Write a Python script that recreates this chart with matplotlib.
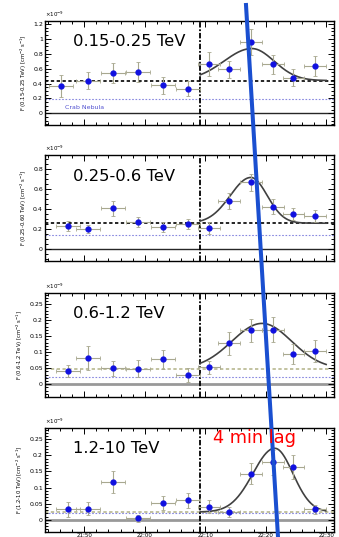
import numpy as np
import matplotlib
matplotlib.use("Agg")
import matplotlib.pyplot as plt
from matplotlib.lines import Line2D
from matplotlib.ticker import MultipleLocator, FuncFormatter

# time in minutes after 22:00 UT
t_bins = [-12.7, -9.4, -5.3, -1.1, 3.0, 7.1, 10.6, 13.9, 17.6, 21.2, 24.6, 28.1]
t_err = [2.0, 2.0, 2.0, 2.0, 2.0, 2.0, 1.8, 1.8, 1.8, 1.8, 1.8, 1.8]
t_first_p1 = -13.9

bands = ["0.15-0.25 TeV", "0.25-0.6 TeV", "0.6-1.2 TeV", "1.2-10 TeV"]
ylabels = ["F (0.15-0.25 TeV) [cm$^{-2}$ s$^{-1}$]",
           "F (0.25-0.60 TeV) [cm$^{-2}$ s$^{-1}$]",
           "F (0.6-1.2 TeV) [cm$^{-2}$ s$^{-1}$]",
           "F (1.2-10 TeV) [cm$^{-2}$ s$^{-1}$]"]

flux_1 = [0.367, 0.44, 0.54, 0.555, 0.376, 0.33, 0.66, 0.59, 0.96, 0.66, 0.48, 0.635]
ferr_1 = [0.145, 0.12, 0.13, 0.13, 0.11, 0.10, 0.16, 0.11, 0.17, 0.13, 0.11, 0.13]
flux_2 = [0.236, 0.20, 0.41, 0.27, 0.223, 0.253, 0.21, 0.483, 0.666, 0.423, 0.35, 0.33]
ferr_2 = [0.05, 0.04, 0.075, 0.05, 0.05, 0.05, 0.06, 0.08, 0.08, 0.075, 0.06, 0.06]
flux_3 = [0.042, 0.081, 0.05, 0.049, 0.078, 0.029, 0.053, 0.128, 0.168, 0.17, 0.095, 0.104]
ferr_3 = [0.019, 0.037, 0.023, 0.026, 0.029, 0.022, 0.02, 0.036, 0.036, 0.039, 0.031, 0.034]
flux_4 = [0.032, 0.034, 0.117, 0.004, 0.052, 0.06, 0.04, 0.025, 0.143, 0.178, 0.164, 0.032]
ferr_4 = [0.023, 0.02, 0.033, 0.01, 0.022, 0.023, 0.02, 0.015, 0.033, 0.04, 0.038, 0.015]

# pre-burst mean level, Crab level
baseline = [0.44, 0.26, 0.048, 0.024]
crab = [0.19, 0.14, 0.024, 0.02]
# fit: baseline + amp * gaussian with rise / fall widths
fit_amp = [0.43, 0.456, 0.142, 0.198]
fit_t0 = [17.7, 17.55, 19.4, 21.5]
fit_rise = [4.6, 3.4, 5.0, 3.6]
fit_fall = [3.7, 2.7, 4.9, 3.0]

ylims = [(-0.157, 1.24), (-0.117, 0.94), (-0.04, 0.285), (-0.038, 0.285)]
ymajor = [0.2, 0.2, 0.05, 0.05]
yminor = [0.05, 0.05, 0.01, 0.01]
t_split = 9.2

fig = plt.figure(figsize=(3.39, 5.37), dpi=100)
W, H = 339.0, 537.0
boxes = [(21, 125), (155, 261), (293, 397), (428, 532)]
fluxes = [flux_1, flux_2, flux_3, flux_4]
ferrs = [ferr_1, ferr_2, ferr_3, ferr_4]

for i in range(4):
    top, bot = boxes[i]
    ax = fig.add_axes([45 / W, (H - bot) / H, 289 / W, (bot - top) / H])
    tx = list(t_bins)
    if i == 0:
        tx[0] = t_first_p1
    ax.axhline(0, color="0.15" if i < 2 else "0.6", lw=1.0 if i < 2 else 2.0, zorder=1)
    ax.axhline(baseline[i], color="k" if i < 2 else "#b8b890", ls=(0, (2, 1.5)), lw=1.2, zorder=1)
    ax.axhline(crab[i], color="#6a6ad8", ls=(0, (1.5, 1.5)), lw=0.8, alpha=0.8, zorder=1)
    ax.axvline(t_split, color="k", ls=(0, (3, 1, 1, 1)), lw=1.3, zorder=2)
    ax.errorbar(tx, fluxes[i], xerr=t_err, yerr=ferrs[i], fmt="o", ms=3.5,
                color="#1010e0", ecolor="#a8a890", elinewidth=0.8, capsize=1.2,
                capthick=0.6, zorder=3)
    tt = np.linspace(t_split, 30.0, 200)
    sig = np.where(tt < fit_t0[i], fit_rise[i], fit_fall[i])
    ff = baseline[i] + fit_amp[i] * np.exp(-0.5 * ((tt - fit_t0[i]) / sig) ** 2)
    ax.plot(tt, ff, color="0.25", lw=1.2, zorder=2)
    if i == 0:
        ax.text(-13.2, 0.075, "Crab Nebula", color="#5050d0", fontsize=4.5, va="center")

    ax.set_xlim(-16.5, 31.3)
    ax.set_ylim(*ylims[i])
    ax.xaxis.set_major_locator(MultipleLocator(10))
    ax.xaxis.set_minor_locator(MultipleLocator(2))
    ax.yaxis.set_major_locator(MultipleLocator(ymajor[i]))
    ax.yaxis.set_minor_locator(MultipleLocator(yminor[i]))
    ax.yaxis.set_major_formatter(FuncFormatter(lambda v, p: "%g" % round(v, 3)))
    ax.tick_params(which="both", direction="in", top=True, right=True,
                   labelsize=4.5, pad=1.5, width=0.7)
    ax.tick_params(which="major", length=4)
    ax.tick_params(which="minor", length=2)
    for s in ax.spines.values():
        s.set_linewidth(1.0)
    if i == 3:
        ax.xaxis.set_major_formatter(FuncFormatter(
            lambda v, p: "%02d:%02d" % (22 + int(v) // 60, int(v) % 60)))
        ax.tick_params(axis="x", labelsize=4, pad=0.5)
    else:
        ax.set_xticklabels([])
    ax.set_ylabel(ylabels[i], fontsize=3.8, labelpad=3)
    ax.text(0.0, 1.02, r"$\times10^{-9}$", transform=ax.transAxes, fontsize=4,
            ha="left", va="bottom")
    ax.text(0.097, 0.8, bands[i], transform=ax.transAxes, fontsize=11.8,
            ha="left", va="center")

fig.text(213 / W, 1 - 438 / H, "4 min lag", color="red", fontsize=12.8,
         ha="left", va="center")
fig.add_artist(Line2D([246 / W, 278 / W], [1 - 5 / H, 1 - 537 / H],
                      transform=fig.transFigure, color="#1a4fd0", lw=2.9))

fig.savefig("out.png", dpi=100)
